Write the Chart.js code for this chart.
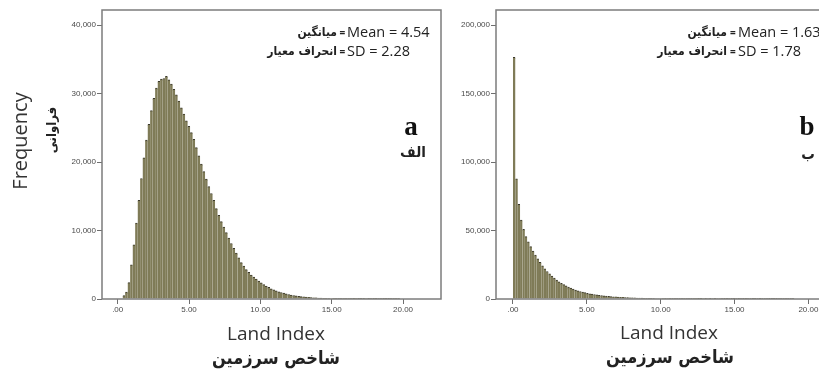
<!DOCTYPE html>
<html>
<head>
<meta charset="utf-8">
<script src="https://cdn.jsdelivr.net/npm/chart.js@4.4.1/dist/chart.umd.min.js"></script>
<style>
  html, body { margin:0; padding:0; background:#fff; }
  body { width:819px; height:372px; position:relative; overflow:hidden; }
  canvas { position:absolute; top:0; }
  .t { position:absolute; white-space:nowrap; color:#222; line-height:1; }
  .en { font-family:"Open Sans", "Liberation Sans", sans-serif; }
  .fa { font-family:"DejaVu Sans Condensed", "DejaVu Sans", sans-serif; font-weight:bold; }
  .c { transform:translate(-50%,-50%); }
  .rot { transform:translate(-50%,-50%) rotate(-90deg); }
</style>
</head>
<body>
<canvas id="cA" width="445" height="372" style="left:0px"></canvas>
<canvas id="cB" width="450" height="372" style="left:394px"></canvas>

<!-- left panel texts -->
<div class="t en rot" style="left:20px;top:141px;font-size:20px;color:#333;">Frequency</div>
<div class="t fa rot" style="left:51px;top:130px;font-size:13px;">فراوانی</div>
<div class="t en c" style="left:276px;top:333px;font-size:19px;color:#333;">Land Index</div>
<div class="t fa c" style="left:276px;top:358px;font-size:18px;">شاخص سرزمین</div>
<div class="t en" style="left:347px;top:25px;font-size:14.5px;">Mean = 4.54</div>
<div class="t en" style="left:347px;top:44px;font-size:14.5px;">SD = 2.28</div>
<div class="t en" style="left:339.5px;top:27px;font-size:10px;font-weight:bold;">=</div>
<div class="t en" style="left:339.5px;top:46px;font-size:10px;font-weight:bold;">=</div>
<div class="t fa" style="right:482px;top:26px;font-size:12px;">میانگین</div>
<div class="t fa" style="right:482px;top:45px;font-size:12px;">انحراف معیار</div>
<div class="t c" style="left:411px;top:126px;font-size:27px;font-weight:bold;font-family:'Liberation Serif',serif;color:#111;">a</div>
<div class="t fa c" style="left:413px;top:152px;font-size:15px;">الف</div>

<!-- right panel texts -->
<div class="t en c" style="left:669px;top:332px;font-size:19px;color:#333;">Land Index</div>
<div class="t fa c" style="left:670px;top:357px;font-size:18px;">شاخص سرزمین</div>
<div class="t en" style="left:738px;top:25px;font-size:14.5px;">Mean = 1.63</div>
<div class="t en" style="left:738px;top:44px;font-size:14.5px;">SD = 1.78</div>
<div class="t en" style="left:730px;top:27px;font-size:10px;font-weight:bold;">=</div>
<div class="t en" style="left:730px;top:46px;font-size:10px;font-weight:bold;">=</div>
<div class="t fa" style="right:92px;top:26px;font-size:12px;">میانگین</div>
<div class="t fa" style="right:92px;top:45px;font-size:12px;">انحراف معیار</div>
<div class="t c" style="left:807px;top:126px;font-size:27px;font-weight:bold;font-family:'Liberation Serif',serif;color:#111;">b</div>
<div class="t fa c" style="left:808px;top:154px;font-size:15px;">ب</div>

<script>
// ---------------- DATA ----------------
// Panel a (الف): histogram of Land Index, bins start at 0.35, width 0.175
const binStartA = 0.35;
const binWidthA = 0.175;
const countsA = [500, 1000, 2400, 5000, 7900, 11100, 14400, 17600, 20600, 23200,
  25500, 27500, 29300, 30800, 31800, 32100, 32200, 32500, 32000, 31400,
  30600, 29800, 28900, 27900, 27000, 26000, 25200, 24300, 23300, 22100,
  20900, 19700, 18600, 17500, 16400, 15400, 14400, 13200, 12200, 11300,
  10500, 9700, 8900, 8100, 7400, 6700, 6000, 5300, 4800, 4300,
  3900, 3500, 3200, 2900, 2600, 2350, 2100, 1900, 1700, 1500,
  1350, 1200, 1050, 950, 850, 750, 660, 580, 510, 450,
  400, 350, 310, 270, 240, 210, 180, 160, 140, 120,
  105, 90, 80, 70, 60, 50, 45, 40, 35, 30,
  25, 20, 18, 15, 12, 10, 8, 7, 6, 5,
  4, 4, 3, 3, 2, 2, 2, 1, 1, 1, 1];

// Panel b (ب): histogram of Land Index, bins start at 0, width 0.16
const binStartB = 0;
const binWidthB = 0.16;
const countsB = [176400, 87800, 69100, 57700, 50900, 45500, 41800, 38200, 35000, 32100,
  29400, 26800, 24300, 22100, 20100, 18300, 16700, 15200, 13800, 12600,
  11500, 10500, 9600, 8700, 7900, 7200, 6600, 6000, 5500, 5000,
  4600, 4200, 3860, 3550, 3270, 3000, 2760, 2540, 2340, 2150,
  1980, 1820, 1670, 1540, 1420, 1300, 1200, 1100, 1010, 930,
  860, 790, 720, 670, 610, 560, 520, 480, 440, 400,
  370, 340, 310, 290, 260, 240, 220, 200, 190, 170,
  160, 150, 130, 120, 110, 100, 95, 85, 80, 70,
  65, 60, 55, 50, 45, 40, 38, 35, 32, 30,
  27, 25, 23, 21, 19, 17, 15, 14, 13, 12,
  11, 10, 9, 8, 7, 6, 5, 5, 4, 4,
  3, 3, 2, 2, 2, 1, 1, 1, 1];

// Axis ticks
const xTickValues = [0, 5, 10, 15, 20];
const xTickLabels = ['.00', '5.00', '10.00', '15.00', '20.00'];
const yTickValuesA = [0, 10000, 20000, 30000, 40000];
const yTickLabelsA = ['0', '10,000', '20,000', '30,000', '40,000'];
const yTickValuesB = [0, 50000, 100000, 150000, 200000];
const yTickLabelsB = ['0', '50,000', '100,000', '150,000', '200,000'];

// ---------------- CHART ----------------
const framePlugin = {
  id: 'frame',
  afterDatasetsDraw(chart) {
    const a = chart.chartArea, ctx = chart.ctx;
    ctx.save();
    ctx.strokeStyle = '#7c7c7c';
    ctx.lineWidth = 1.5;
    ctx.strokeRect(a.left, a.top, a.right - a.left, a.bottom - a.top);
    ctx.restore();
  }
};

function makeHist(id, counts, start, width, xMin, xMax, yMax, yVals, yLabs, padRight) {
  const pts = counts.map((c, i) => ({ x: start + (i + 0.5) * width, y: c }));
  const tickFont = { family: 'Liberation Sans', size: 8 };
  return new Chart(document.getElementById(id), {
    type: 'bar',
    data: {
      datasets: [{
        data: pts,
        backgroundColor: '#7f7b57',
        borderColor: '#3b392b',
        borderWidth: { top: 1, left: 0, right: 0, bottom: 0 },
        borderSkipped: false,
        barPercentage: 1.0,
        categoryPercentage: 1.0
      }]
    },
    options: {
      responsive: false,
      animation: false,
      devicePixelRatio: 1,
      layout: { padding: { top: 10, left: 0, right: padRight, bottom: 0 } },
      plugins: { legend: { display: false }, tooltip: { enabled: false }, title: { display: false } },
      scales: {
        x: {
          type: 'linear', min: xMin, max: xMax, offset: false,
          grid: { offset: false, drawOnChartArea: false, drawTicks: true, tickLength: 5, color: '#6e6e6e', lineWidth: 1 },
          border: { display: false },
          ticks: {
            font: tickFont, color: '#4a4a4a', padding: 1, maxRotation: 0, autoSkip: false,
            callback: (v) => { const k = xTickValues.indexOf(v); return k >= 0 ? xTickLabels[k] : ''; }
          },
          afterBuildTicks: (s) => { s.ticks = xTickValues.map(v => ({ value: v })); },
          afterFit: (s) => { s.height = 73; }
        },
        y: {
          type: 'linear', min: 0, max: yMax,
          grid: { drawOnChartArea: false, drawTicks: true, tickLength: 5, color: '#6e6e6e', lineWidth: 1 },
          border: { display: false },
          ticks: {
            font: tickFont, color: '#4a4a4a', padding: 1, autoSkip: false,
            callback: (v) => { const k = yVals.indexOf(v); return k >= 0 ? yLabs[k] : ''; }
          },
          afterBuildTicks: (s) => { s.ticks = yVals.map(v => ({ value: v })); },
          afterFit: (s) => { s.width = 102; }
        }
      }
    },
    plugins: [framePlugin]
  });
}

makeHist('cA', countsA, binStartA, binWidthA, -1.1, 22.66, 42200, yTickValuesA, yTickLabelsA, 4);
makeHist('cB', countsB, binStartB, binWidthB, -1.15, 21.8, 211000, yTickValuesB, yTickLabelsB, 9);
</script>
</body>
</html>
